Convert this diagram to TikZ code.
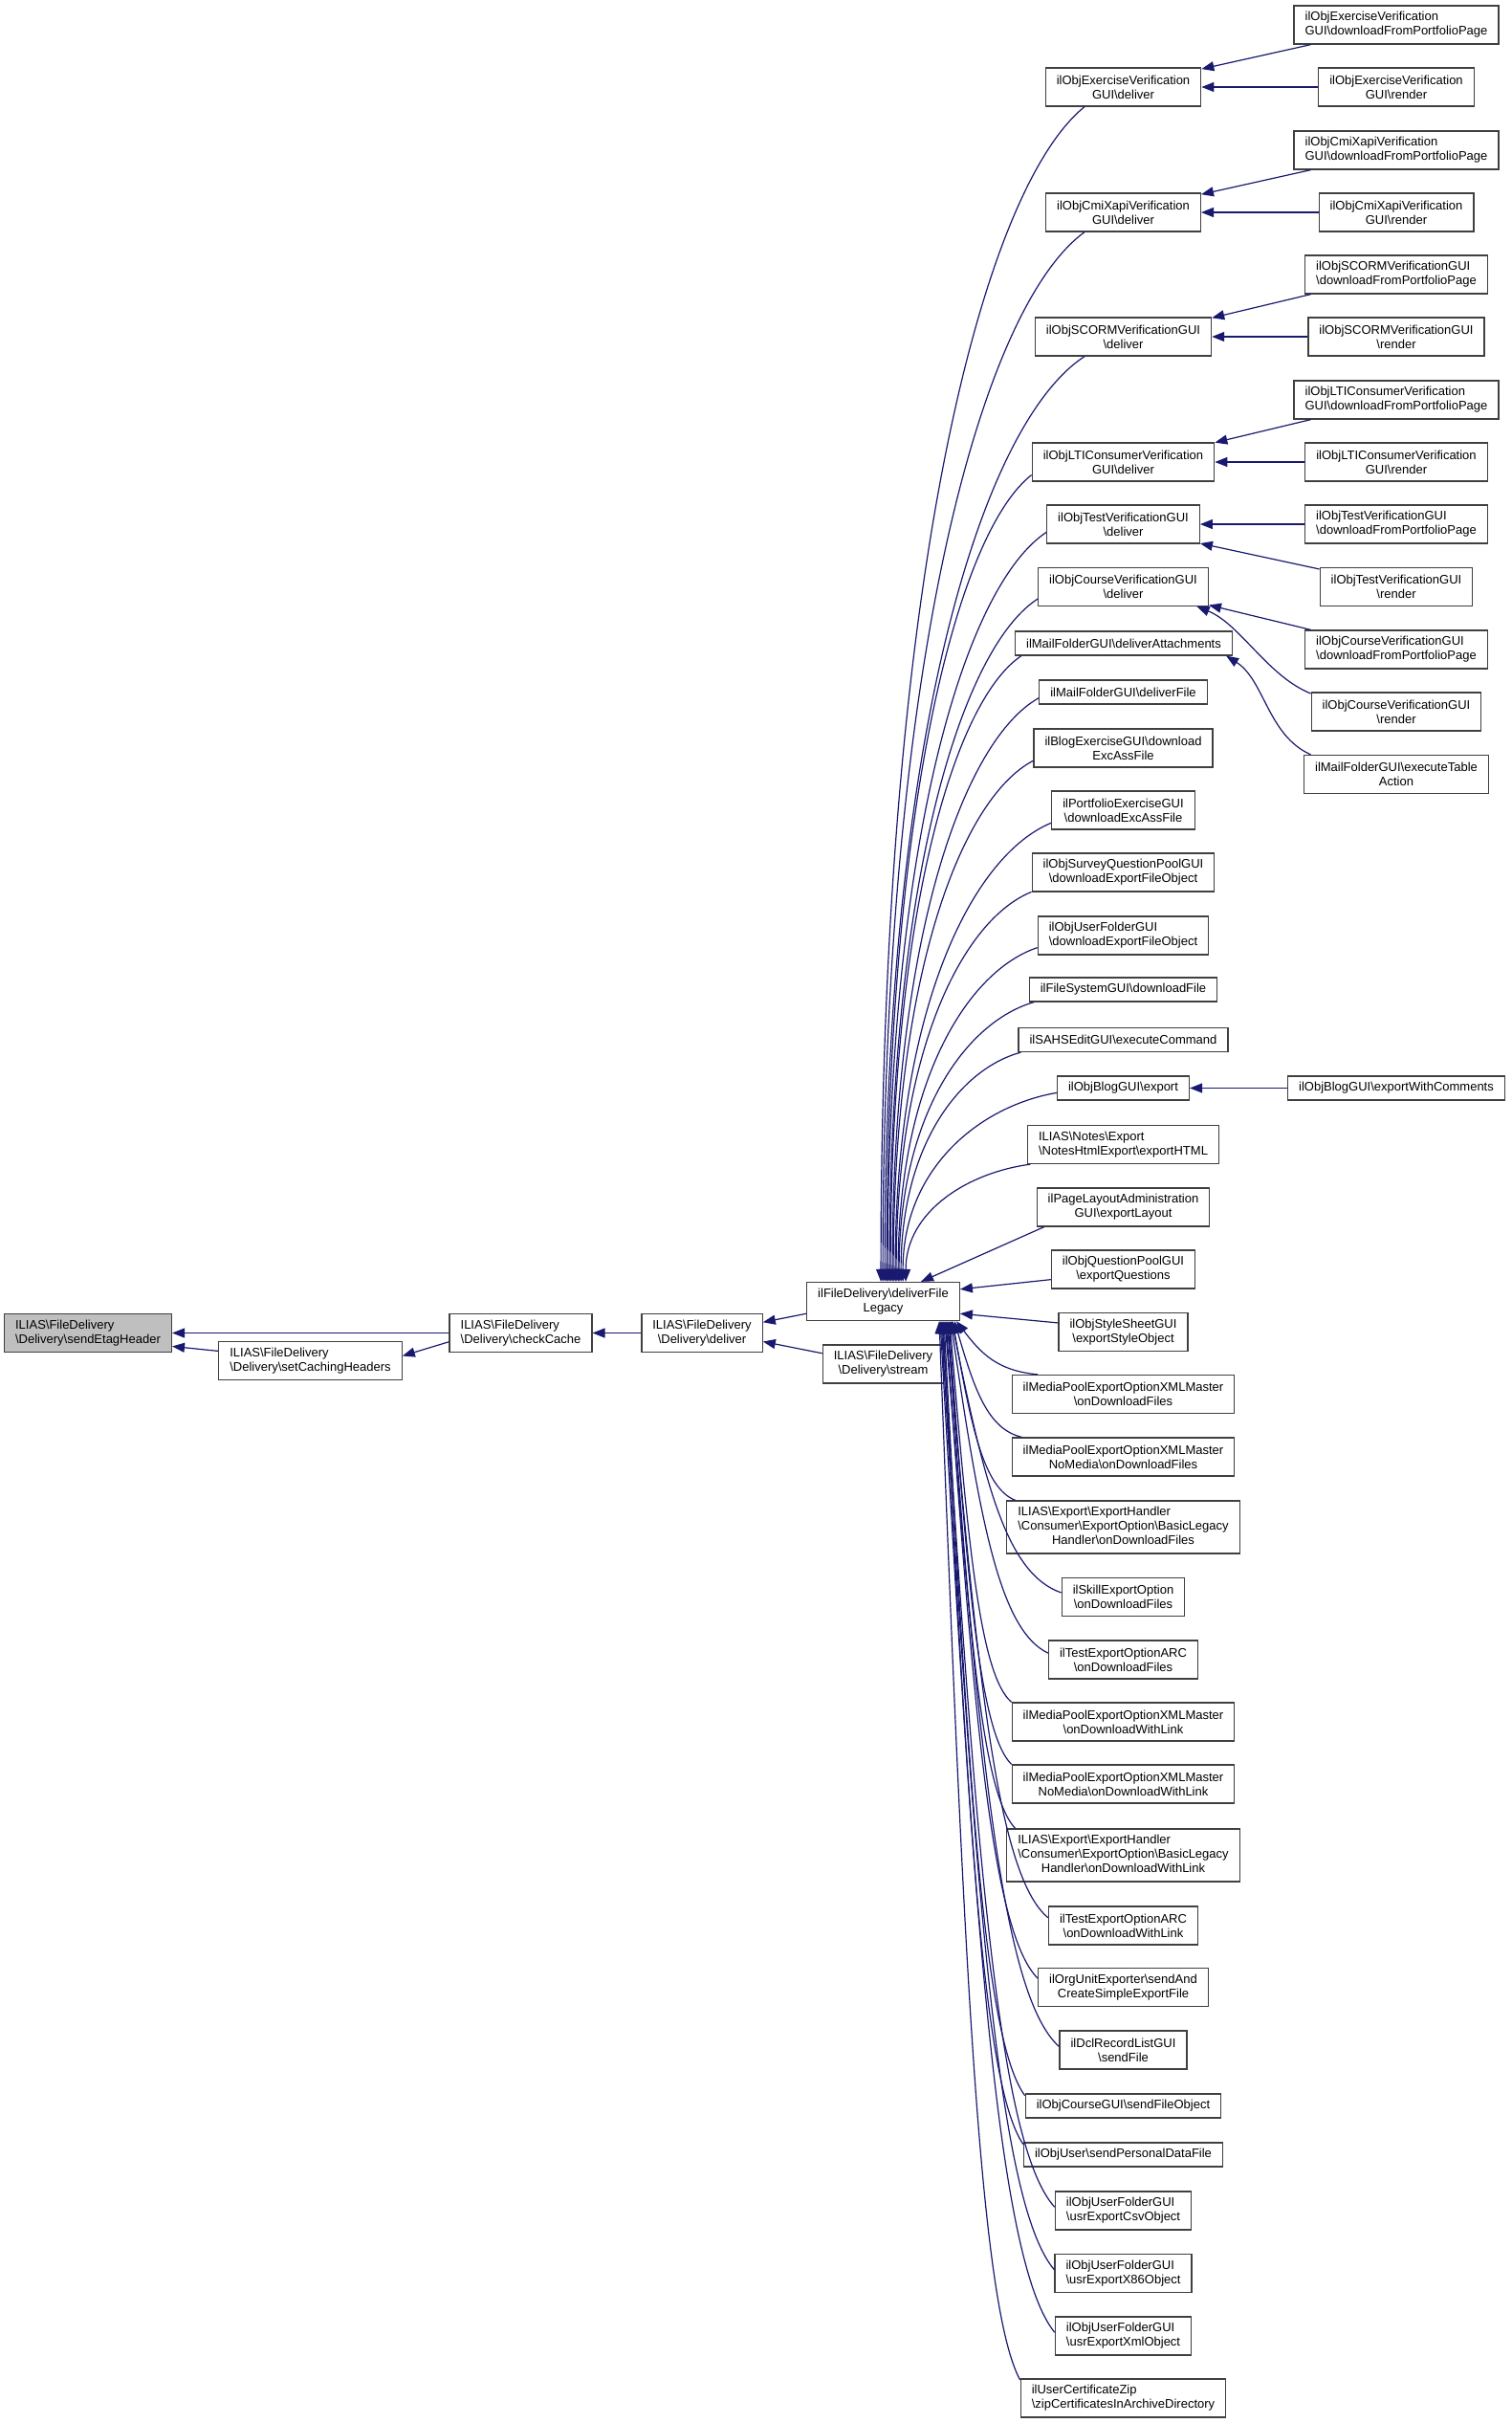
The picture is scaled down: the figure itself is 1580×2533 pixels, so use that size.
\documentclass[tikz,border=0pt]{standalone}
\usepackage{fontspec}
\setmainfont{Liberation Sans}
\usetikzlibrary{arrows.meta,calc}
\definecolor{NodeLine}{HTML}{404040}
\definecolor{RootFill}{HTML}{BFBFBF}
\definecolor{CallBlue}{HTML}{191970}
\newcommand{\bksl}{\textbackslash}
\tikzset{
  fn/.style={draw=NodeLine, fill=white, line width=1.3pt, minimum height=25pt, inner xsep=11.5pt, inner ysep=3pt, align=center, font=\fontsize{13}{15}\selectfont},
  two/.style={minimum height=40pt},
  three/.style={minimum height=55pt},
  lft/.style={align=left},
  root/.style={fill=RootFill},
  callarr/.style={draw=CallBlue, line width=1.2pt, -{Triangle[length=13pt,width=10pt]}}
}
\begin{document}
\begin{tikzpicture}[x=1pt,y=-1pt]
\useasboundingbox (0,0) rectangle (1580,2533);
% left part of the graph
\node[fn,two,lft,root] (etag) at (92,1393.5) {ILIAS\bksl FileDelivery\\\bksl Delivery\bksl sendEtagHeader};
\node[fn,two,lft] (setcaching) at (324.5,1422.5) {ILIAS\bksl FileDelivery\\\bksl Delivery\bksl setCachingHeaders};
\node[fn,two,lft] (checkcache) at (544.5,1393.5) {ILIAS\bksl FileDelivery\\\bksl Delivery\bksl checkCache};
\node[fn,two] (deliver) at (734,1393.5) {ILIAS\bksl FileDelivery\\\bksl Delivery\bksl deliver};
\node[fn,two] (legacy) at (923.5,1360.5) {ilFileDelivery\bksl deliverFile\\Legacy};
\node[fn,two] (stream) at (923.5,1426) {ILIAS\bksl FileDelivery\\\bksl Delivery\bksl stream};
% callers of deliverFileLegacy
\node[fn,two] (exdeliver) at (1174.5,91) {ilObjExerciseVerification\\GUI\bksl deliver};
\node[fn,two] (cmideliver) at (1174.5,222) {ilObjCmiXapiVerification\\GUI\bksl deliver};
\node[fn,two] (scormdeliver) at (1174.5,352) {ilObjSCORMVerificationGUI\\\bksl deliver};
\node[fn,two] (ltideliver) at (1174.5,483) {ilObjLTIConsumerVerification\\GUI\bksl deliver};
\node[fn,two] (testdeliver) at (1174.5,548) {ilObjTestVerificationGUI\\\bksl deliver};
\node[fn,two] (coursedeliver) at (1174.5,613.5) {ilObjCourseVerificationGUI\\\bksl deliver};
\node[fn] (mailattach) at (1175,672.5) {ilMailFolderGUI\bksl deliverAttachments};
\node[fn] (mailfile) at (1174.5,723.5) {ilMailFolderGUI\bksl deliverFile};
\node[fn,two] (blogexc) at (1174.5,782) {ilBlogExerciseGUI\bksl download\\ExcAssFile};
\node[fn,two] (portfolio) at (1174.5,847) {ilPortfolioExerciseGUI\\\bksl downloadExcAssFile};
\node[fn,two] (survey) at (1174.5,912) {ilObjSurveyQuestionPoolGUI\\\bksl downloadExportFileObject};
\node[fn,two,lft] (userdl) at (1174.5,978) {ilObjUserFolderGUI\\\bksl downloadExportFileObject};
\node[fn] (filesys) at (1174.5,1034.5) {ilFileSystemGUI\bksl downloadFile};
\node[fn] (sahs) at (1174.5,1087) {ilSAHSEditGUI\bksl executeCommand};
\node[fn] (blogexp) at (1174.5,1137.5) {ilObjBlogGUI\bksl export};
\node[fn,two,lft] (notes) at (1174.5,1196.5) {ILIAS\bksl Notes\bksl Export\\\bksl NotesHtmlExport\bksl exportHTML};
\node[fn,two] (pagelayout) at (1174.5,1262) {ilPageLayoutAdministration\\GUI\bksl exportLayout};
\node[fn,two] (questions) at (1174.5,1327) {ilObjQuestionPoolGUI\\\bksl exportQuestions};
\node[fn,two] (stylesheet) at (1174.5,1392.5) {ilObjStyleSheetGUI\\\bksl exportStyleObject};
\node[fn,two] (mpfiles) at (1174.5,1457.5) {ilMediaPoolExportOptionXMLMaster\\\bksl onDownloadFiles};
\node[fn,two] (mpnmfiles) at (1174.5,1523) {ilMediaPoolExportOptionXMLMaster\\NoMedia\bksl onDownloadFiles};
\node[fn,three] (blfiles) at (1174.5,1596.5) {\begin{tabular}{@{}l@{}}ILIAS\bksl Export\bksl ExportHandler\\\bksl Consumer\bksl ExportOption\bksl BasicLegacy\\\multicolumn{1}{@{}c@{}}{Handler\bksl onDownloadFiles}\end{tabular}};
\node[fn,two] (skill) at (1174.5,1669.5) {ilSkillExportOption\\\bksl onDownloadFiles};
\node[fn,two] (arcfiles) at (1174.5,1735) {ilTestExportOptionARC\\\bksl onDownloadFiles};
\node[fn,two] (mplink) at (1174.5,1800) {ilMediaPoolExportOptionXMLMaster\\\bksl onDownloadWithLink};
\node[fn,two] (mpnmlink) at (1174.5,1865) {ilMediaPoolExportOptionXMLMaster\\NoMedia\bksl onDownloadWithLink};
\node[fn,three] (bllink) at (1174.5,1939.5) {\begin{tabular}{@{}l@{}}ILIAS\bksl Export\bksl ExportHandler\\\bksl Consumer\bksl ExportOption\bksl BasicLegacy\\\multicolumn{1}{@{}c@{}}{Handler\bksl onDownloadWithLink}\end{tabular}};
\node[fn,two] (arclink) at (1174.5,2013) {ilTestExportOptionARC\\\bksl onDownloadWithLink};
\node[fn,two] (orgunit) at (1174.5,2077.5) {ilOrgUnitExporter\bksl sendAnd\\CreateSimpleExportFile};
\node[fn,two] (dcl) at (1174.5,2143) {ilDclRecordListGUI\\\bksl sendFile};
\node[fn] (coursesend) at (1174.5,2201.5) {ilObjCourseGUI\bksl sendFileObject};
\node[fn] (usersend) at (1174.5,2252.5) {ilObjUser\bksl sendPersonalDataFile};
\node[fn,two,lft] (csv) at (1174.5,2311) {ilObjUserFolderGUI\\\bksl usrExportCsvObject};
\node[fn,two,lft] (x86) at (1174.5,2376.5) {ilObjUserFolderGUI\\\bksl usrExportX86Object};
\node[fn,two,lft] (xml) at (1174.5,2442) {ilObjUserFolderGUI\\\bksl usrExportXmlObject};
\node[fn,two,lft] (zip) at (1174.5,2507) {ilUserCertificateZip\\\bksl zipCertificatesInArchiveDirectory};
% outer callers
\node[fn,two,lft] (exdown) at (1460,26) {ilObjExerciseVerification\\GUI\bksl downloadFromPortfolioPage};
\node[fn,two] (exrender) at (1460,91) {ilObjExerciseVerification\\GUI\bksl render};
\node[fn,two,lft] (cmidown) at (1460,157) {ilObjCmiXapiVerification\\GUI\bksl downloadFromPortfolioPage};
\node[fn,two] (cmirender) at (1460,222) {ilObjCmiXapiVerification\\GUI\bksl render};
\node[fn,two,lft] (scormdown) at (1460,287) {ilObjSCORMVerificationGUI\\\bksl downloadFromPortfolioPage};
\node[fn,two] (scormrender) at (1460,352) {ilObjSCORMVerificationGUI\\\bksl render};
\node[fn,two,lft] (ltidown) at (1460,418) {ilObjLTIConsumerVerification\\GUI\bksl downloadFromPortfolioPage};
\node[fn,two] (ltirender) at (1460,483) {ilObjLTIConsumerVerification\\GUI\bksl render};
\node[fn,two,lft] (testdown) at (1460,548) {ilObjTestVerificationGUI\\\bksl downloadFromPortfolioPage};
\node[fn,two] (testrender) at (1460,613.5) {ilObjTestVerificationGUI\\\bksl render};
\node[fn,two,lft] (coursedown) at (1460,679) {ilObjCourseVerificationGUI\\\bksl downloadFromPortfolioPage};
\node[fn,two] (courserender) at (1460,744) {ilObjCourseVerificationGUI\\\bksl render};
\node[fn,two] (mailexec) at (1460,809.5) {ilMailFolderGUI\bksl executeTable\\Action};
\node[fn] (withcomments) at (1460,1137.5) {ilObjBlogGUI\bksl exportWithComments};
% calls on the left
\draw[callarr] (checkcache.west) -- (etag.east);
\draw[callarr] (setcaching.174) -- (etag.351);
\draw[callarr] (checkcache.187) -- (setcaching.3);
\draw[callarr] (deliver.west) -- (checkcache.east);
\draw[callarr] (legacy.189) -- (deliver.10);
\draw[callarr] (stream.170) -- (deliver.352);
% calls into deliverFileLegacy
\foreach \src/\ang/\anc/\off/\bend in {
  exdeliver/207/north west/78/0, cmideliver/207/north west/80/0, scormdeliver/207/north west/82/0,
  ltideliver/188/north west/84/0, testdeliver/186/north west/85/0, coursedeliver/188/north west/87/0,
  mailattach/187/north west/88/0, mailfile/184/north west/90/0, blogexc/188/north west/91/0,
  portfolio/190/north west/93/0, survey/192/north west/94/0, userdl/188/north west/96/0,
  filesys/188/north west/97/0, sahs/187/north west/99/0, blogexp/184/north west/101/0,
  notes/192/north west/104/0,
  mpfiles/167/south west/157/0.3, mpnmfiles/169/south west/155/0.3, blfiles/166/south west/153/0.3,
  skill/176/south west/152/0.3, arcfiles/175/south west/151/0.3, mplink/170/south west/150/0.3,
  mpnmlink/170/south west/149/0.3, bllink/166/south west/148/0.3, arclink/174/south west/147/0.3,
  orgunit/174/south west/146/0.3, dcl/177/south west/145/0.3, coursesend/174/south west/144/0.3,
  usersend/174/south west/143/0.3, csv/177/south west/142/0.3, x86/177/south west/141/0.3,
  xml/177/south west/140/0.3, zip/170/south west/139/0.3}{
  \draw[callarr] let \p1=(\src.\ang), \p2=([xshift=\off pt]legacy.\anc) in
    (\p1) .. controls ({0.5*\x1+0.5*\x2},{0.93*\y1+0.07*\y2})
      and ({\x2+\bend*(\x1-\x2)},{0.6*\y1+0.4*\y2}) .. (\p2);
}
\draw[callarr] (pagelayout.194) -- ([xshift=120pt]legacy.north west);
\draw[callarr] (questions.188) -- (legacy.9);
\draw[callarr] (stylesheet.172) -- (legacy.351);
% calls on the right
\draw[callarr] (exdown.193) -- (exdeliver.13);
\draw[callarr] (exrender.west) -- (exdeliver.east);
\draw[callarr] (cmidown.193) -- (cmideliver.13);
\draw[callarr] (cmirender.west) -- (cmideliver.east);
\draw[callarr] (scormdown.193) -- (scormdeliver.12);
\draw[callarr] (scormrender.west) -- (scormdeliver.east);
\draw[callarr] (ltidown.193) -- (ltideliver.12);
\draw[callarr] (ltirender.west) -- (ltideliver.east);
\draw[callarr] (testdown.west) -- (testdeliver.east);
\draw[callarr] (testrender.167) -- (testdeliver.346);
\draw[callarr] (coursedown.167) -- (coursedeliver.348);
\draw[callarr] (courserender.168) .. controls +(-45,-18) and +(45,18) .. (coursedeliver.345);
\draw[callarr] (mailexec.167) .. controls +(-45,-20) and +(40,25) .. (mailattach.353);
\draw[callarr] (withcomments.west) -- (blogexp.east);
\end{tikzpicture}
\end{document}
